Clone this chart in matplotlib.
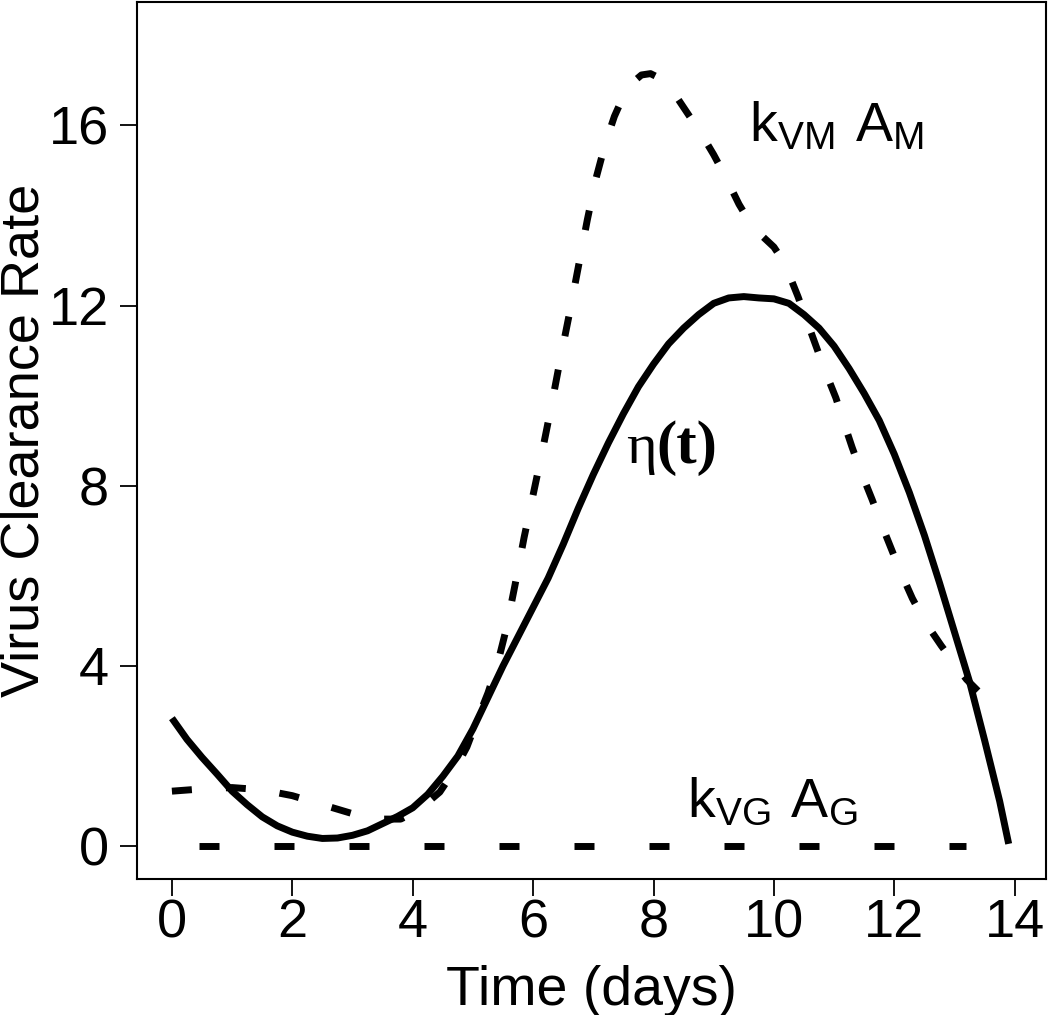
import numpy as np
import matplotlib
matplotlib.use("Agg")
import matplotlib.pyplot as plt

# eta(t): total virus clearance rate (solid)
eta_t = [0.0, 0.25, 0.5, 0.75, 1.0, 1.25, 1.5, 1.75, 2.0, 2.25, 2.5, 2.75,
         3.0, 3.25, 3.5, 3.75, 4.0, 4.25, 4.5, 4.75, 5.0, 5.25, 5.5, 5.75,
         6.0, 6.25, 6.5, 6.75, 7.0, 7.25, 7.5, 7.75, 8.0, 8.25, 8.5, 8.75,
         9.0, 9.25, 9.5, 9.75, 10.0, 10.25, 10.5, 10.75, 11.0, 11.25, 11.5,
         11.75, 12.0, 12.25, 12.5, 12.75, 13.0, 13.25, 13.5, 13.75, 13.9]
eta_y = [2.84, 2.37, 1.97, 1.6, 1.22, 0.92, 0.65, 0.45, 0.31, 0.22, 0.17, 0.18,
         0.24, 0.34, 0.5, 0.66, 0.85, 1.15, 1.55, 2.0, 2.6, 3.3, 4.0, 4.65,
         5.3, 5.95, 6.7, 7.5, 8.25, 8.95, 9.6, 10.2, 10.7, 11.15, 11.5, 11.8,
         12.05, 12.17, 12.2, 12.17, 12.15, 12.05, 11.8, 11.5, 11.1, 10.6, 10.05,
         9.45, 8.7, 7.85, 6.9, 5.85, 4.75, 3.65, 2.35, 1.0, 0.05]

# k_VM * A_M (dashed)
kvm_t = [0.0, 0.5, 1.0, 1.5, 2.0, 2.5, 3.0, 3.5, 3.8, 4.1, 4.45, 4.7, 4.9,
         5.1, 5.25, 5.4, 5.55, 5.7, 5.85, 6.0, 6.15, 6.3, 6.45, 6.6, 6.75,
         6.9, 7.05, 7.2, 7.35, 7.5, 7.65, 7.8, 7.95, 8.1, 8.3, 8.55, 8.8,
         9.0, 9.2, 9.42, 9.6, 9.8, 10.0, 10.1, 10.25, 10.4, 10.55, 10.7,
         10.85, 11.03, 11.15, 11.3, 11.45, 11.63, 11.8, 11.95, 12.1, 12.3,
         12.5, 12.78, 13.0, 13.2, 13.5]
kvm_y = [1.22, 1.27, 1.3, 1.25, 1.12, 0.92, 0.72, 0.6, 0.6, 0.8, 1.2, 1.7, 2.2,
         2.9, 3.4, 4.0, 4.8, 5.8, 6.85, 7.8, 8.75, 9.75, 10.8, 11.8, 12.85,
         13.9, 14.85, 15.6, 16.2, 16.65, 16.95, 17.12, 17.15, 17.05, 16.8,
         16.3, 15.8, 15.35, 14.85, 14.25, 13.85, 13.55, 13.3, 13.1, 12.7,
         12.2, 11.65, 11.1, 10.55, 9.95, 9.45, 8.85, 8.3, 7.7, 7.1, 6.6, 6.1,
         5.5, 5.0, 4.45, 4.05, 3.7, 3.3]

# k_VG * A_G (dashed, flat at zero)
kvg_t = [0.45, 13.19]
kvg_y = [0.0, 0.0]

xticks = [0, 2, 4, 6, 8, 10, 12, 14]
yticks = [0, 4, 8, 12, 16]

plt.rcParams['font.family'] = 'Liberation Sans'
plt.rcParams['mathtext.fontset'] = 'custom'
plt.rcParams['mathtext.rm'] = 'Liberation Sans'
plt.rcParams['lines.scale_dashes'] = False

fig = plt.figure(figsize=(10.5, 10.15), dpi=100)
ax = fig.add_axes([137 / 1050, 136 / 1015, 909 / 1050, 877 / 1015])

lw = 5.0
ax.plot(eta_t, eta_y, color='black', lw=lw, solid_capstyle='butt',
        solid_joinstyle='round')
ax.plot(kvm_t, kvm_y, color='black', lw=lw, linestyle=(0, (14.4, 24.5)))
ax.plot(kvg_t, kvg_y, color='black', lw=lw, linestyle=(0, (14.4, 39.6)))

ax.text(11.03, 15.65, r'$\mathregular{k_{VM}\ A_M}$', fontsize=40,
        ha='center', va='baseline')
ax.text(9.98, 0.64, r'$\mathregular{k_{VG}\ A_G}$', fontsize=40,
        ha='center', va='baseline')
# eta(t) label: greek letter regular, "(t)" bold serif
ax.text(7.55, 8.51, 'η', family='Liberation Serif', fontsize=42,
        ha='left', va='baseline')
ax.text(8.04, 8.51, '(t)', family='Liberation Serif', fontsize=44,
        weight='bold', ha='left', va='baseline')

ax.set_xlim(-0.58, 14.52)
ax.set_ylim(-0.73, 18.74)
ax.set_xticks(xticks)
ax.set_yticks(yticks)
ax.tick_params(axis='both', labelsize=39, length=12, width=1.3)
ax.tick_params(axis='x', pad=2)
ax.tick_params(axis='y', pad=8)
for s in ax.spines.values():
    s.set_linewidth(1.5)

ax.set_xlabel('Time (days)', fontsize=40, va='baseline')
ax.xaxis.set_label_coords(0.5, (879 - 1005) / 877)
ax.set_ylabel('Virus Clearance Rate', fontsize=39, va='center')
ax.yaxis.set_label_coords((25 - 137) / 909, 0.5)

fig.savefig('out.png', dpi=100)
